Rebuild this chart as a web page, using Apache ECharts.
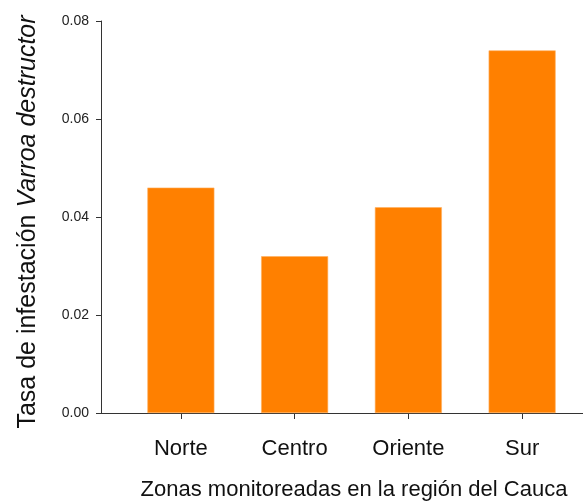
<!DOCTYPE html>
<html>
<head>
<meta charset="utf-8">
<script src="https://cdn.jsdelivr.net/npm/echarts@6/dist/echarts.min.js"></script>
<style>html,body{margin:0;padding:0;background:#fff}#c{width:583px;height:504px}</style>
</head>
<body>
<div id="c"></div>
<script>
const categories = ['Norte', 'Centro', 'Oriente', 'Sur'];
const values = [0.046, 0.032, 0.042, 0.074];
const yTicks = [0, 0.02, 0.04, 0.06, 0.08];

const FONT = '"Liberation Sans", Arial, sans-serif';
const chart = echarts.init(document.getElementById('c'), null, {renderer: 'canvas'});
chart.setOption({
  animation: false,
  backgroundColor: '#fff',
  grid: [
    {left: 101, right: 0, top: 21, bottom: 91, outerBoundsMode: 'none', containLabel: false},
    {left: 124, width: 455, top: 21, bottom: 91, outerBoundsMode: 'none', containLabel: false}
  ],
  xAxis: [
    {
      gridIndex: 0, type: 'value', min: 0, max: 1,
      axisLine: {show: true, lineStyle: {color: '#333', width: 1}},
      axisTick: {show: false}, axisLabel: {show: false}, splitLine: {show: false},
      name: 'Zonas monitoreadas en la región del Cauca',
      nameLocation: 'middle', nameGap: 66,
      nameTextStyle: {fontFamily: FONT, fontSize: 22, color: '#111', padding: [0, 0, 0, 24]}
    },
    {
      gridIndex: 1, type: 'category', data: categories,
      axisLine: {show: false},
      axisTick: {show: true, alignWithLabel: true, length: 6, lineStyle: {color: '#333'}},
      axisLabel: {fontFamily: FONT, fontSize: 22, color: '#111', margin: 25}
    }
  ],
  yAxis: [
    {
      gridIndex: 0, type: 'value', min: yTicks[0], max: yTicks[yTicks.length - 1], interval: 0.02,
      axisLine: {show: true, lineStyle: {color: '#333', width: 1}},
      axisTick: {show: true, length: 5, lineStyle: {color: '#333'}},
      axisLabel: {fontFamily: FONT, fontSize: 14, color: '#222', margin: 12,
        formatter: v => v.toFixed(2)},
      splitLine: {show: false},
      name: '{n|Tasa de infestación }{i|Varroa destructor}',
      nameLocation: 'middle', nameGap: 60, nameRotate: 90,
      nameTextStyle: {
        padding: [0, 10, 0, 0],
        rich: {
          n: {fontFamily: FONT, fontSize: 25, color: '#111'},
          i: {fontFamily: FONT, fontSize: 25, color: '#111', fontStyle: 'italic'}
        }
      }
    },
    {
      gridIndex: 1, type: 'value', min: yTicks[0], max: yTicks[yTicks.length - 1], show: false,
      splitLine: {show: false}
    }
  ],
  series: [{
    type: 'bar', xAxisIndex: 1, yAxisIndex: 1,
    data: values, barWidth: 67,
    itemStyle: {color: '#FF8000', borderColor: '#FFB060', borderWidth: 0.6}
  }]
});
</script>
</body>
</html>
